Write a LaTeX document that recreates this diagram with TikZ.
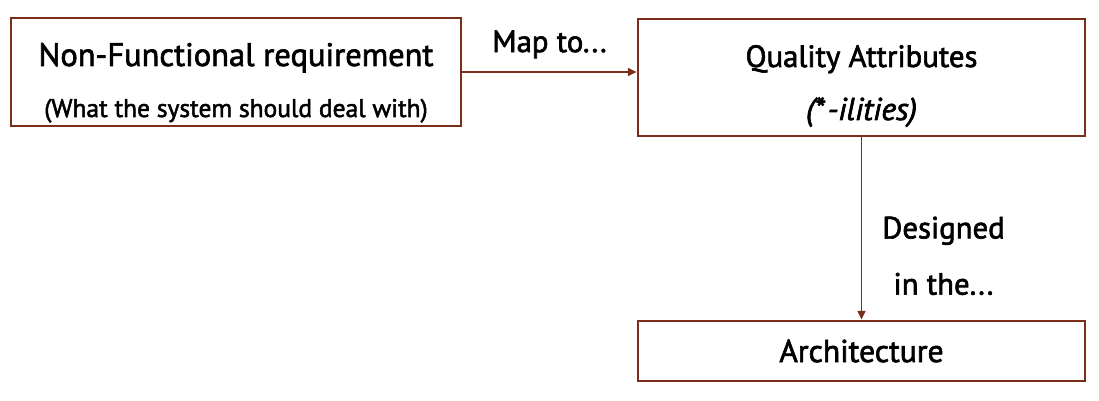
\documentclass[tikz,border=0pt]{standalone}
\usepackage{fontspec}
\setmainfont[FakeBold=2, ItalicFeatures={FakeBold=2}]{PT Sans}
\usetikzlibrary{arrows.meta, positioning}
\definecolor{boxred}{HTML}{7A2E1C}

\begin{document}
\begin{tikzpicture}[
    x = 0.02cm, y = -0.02cm,
    box/.style = {rectangle, draw=boxred, line width=1.6pt, fill=white, align=center, inner sep=0pt},
    link/.style = {draw=boxred, line width=1pt, -{Triangle[length=5pt, width=4.5pt]}},
    lbl/.style = {font=\fontsize{17.5}{32}\selectfont, align=center},
]
    \useasboundingbox (0,0) rectangle (1099,401);
    % les trois boites
    \node[box, minimum width=9.0cm, minimum height=2.16cm] (nfr) at (236,72) {};
    \node[box, minimum width=8.94cm, minimum height=2.34cm] (qa) at (861.5,77.5) {};
    \node[box, minimum width=8.94cm, minimum height=1.2cm, font=\fontsize{18}{20}\selectfont] (arch) at (861.5,351)
        {Architecture};
    % textes des boites
    \node[font=\fontsize{18.5}{20}\selectfont, anchor=base] at (236,66) {Non-Functional requirement};
    \node[font=\fontsize{14.5}{16}\selectfont, anchor=base] at (236,117) {(What the system should deal with)};
    \node[font=\fontsize{17.5}{20}\selectfont, anchor=base] at (861.5,67) {Quality Attributes};
    \node[font=\fontsize{18}{20}\selectfont\itshape, anchor=base] at (861.5,120) {(*\kern1.5pt-ilities)};
    % les liens
    \draw[link] (nfr.east) -- (nfr.east -| qa.west)
        node[lbl, midway, above=4pt] (map) {Map to...};
    \draw[link] (qa.south) -- (arch.north)
        node[lbl, pos=0.65, right=8pt] (des) {Designed\\in the...};
\end{tikzpicture}
\end{document}
